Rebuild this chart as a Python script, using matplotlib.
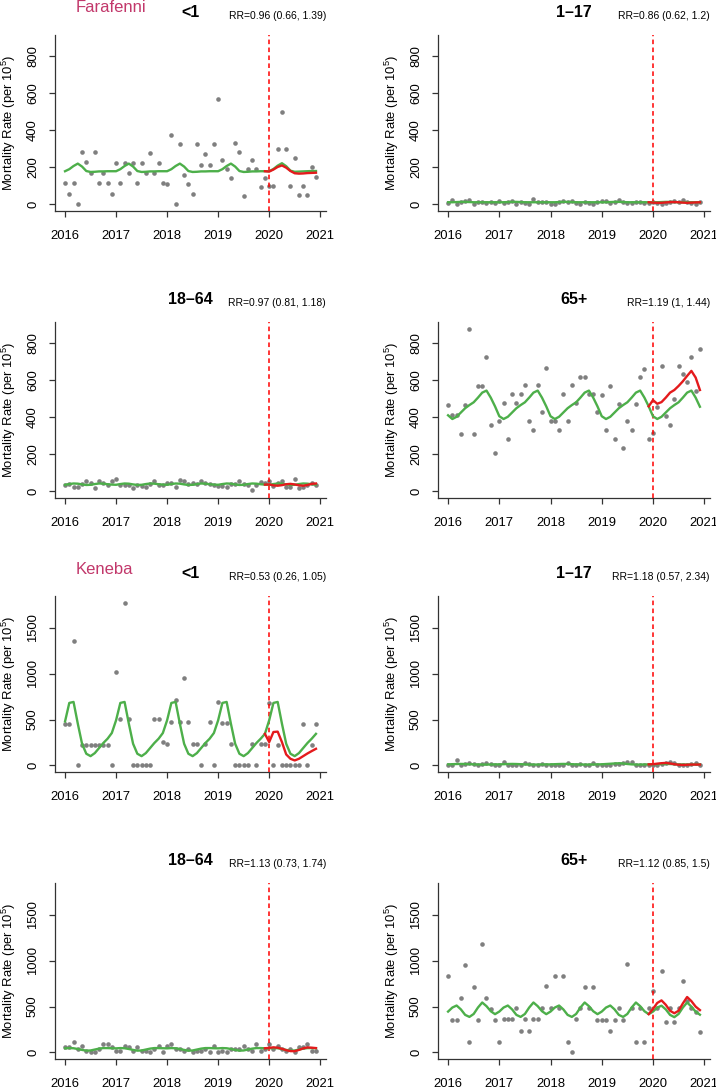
import numpy as np
import matplotlib
import matplotlib.pyplot as plt
matplotlib.use('Agg')

plt.rcParams['font.family'] = ['Liberation Sans', 'DejaVu Sans']
plt.rcParams['mathtext.fontset'] = 'custom'
plt.rcParams['mathtext.rm'] = 'Liberation Sans'
plt.rcParams['mathtext.it'] = 'Liberation Sans:italic'

# monthly series, Jan 2016 .. Dec 2020
year_ticks = [2016, 2017, 2018, 2019, 2020, 2021]
months = 2016 + np.arange(60) / 12
cf_start = 47  # counterfactual line starts Dec 2019

sites = ["Farafenni", "Keneba"]
groups = ["<1", "1\u201317", "18\u201364", "65+"]

# ---- Farafenni ----
far_rr = ["RR=0.96 (0.66, 1.39)", "RR=0.86 (0.62, 1.2)",
          "RR=0.97 (0.81, 1.18)", "RR=1.19 (1, 1.44)"]

far_u1_obs = [113, 56, 113, 0, 281, 226, 170, 281, 113, 170, 113, 57,
              222, 113, 222, 167, 222, 113, 222, 167, 278, 167, 222, 113,
              108, 376, 0, 323, 161, 108, 54, 323, 213, 269, 213, 323,
              568, 238, 190, 143, 332, 283, 48, 190, 238, 190, 95, 142,
              102, 102, 301, 500, 301, 102, 251, 52, 102, 52, 200, 150]
far_u1_fit = [179, 190, 207, 220, 204, 180, 175, 176, 178, 178, 179, 179,
              179, 190, 207, 220, 204, 180, 175, 176, 178, 178, 179, 179,
              179, 190, 207, 220, 204, 180, 175, 176, 178, 178, 179, 179,
              179, 190, 207, 220, 204, 180, 175, 176, 178, 178, 179, 179,
              179, 191, 209, 222, 206, 182, 176, 177, 178, 179, 180, 180]
far_u1_cf = [179, 177, 188, 202, 210, 198, 180, 168, 166, 167, 169, 170, 171]

far_1_17_obs = [10, 22, 2, 12, 20, 22, 5, 14, 14, 10, 12, 10,
                18, 8, 14, 18, 5, 15, 10, 4, 32, 15, 14, 12,
                5, 4, 12, 20, 14, 18, 8, 4, 15, 10, 5, 14,
                20, 18, 8, 14, 24, 12, 8, 10, 14, 12, 8, 10,
                14, 8, 5, 10, 12, 20, 15, 24, 12, 8, 4, 12]
far_1_17_fit = [12, 12, 13, 14, 14, 13, 12, 12, 12, 12, 12, 12,
                12, 12, 13, 14, 14, 13, 12, 12, 12, 12, 12, 12,
                12, 12, 13, 14, 14, 13, 12, 12, 12, 12, 12, 12,
                12, 12, 13, 14, 14, 13, 12, 12, 12, 12, 12, 12,
                12, 12, 13, 14, 14, 13, 12, 12, 12, 12, 12, 12]
far_1_17_cf = [12, 10, 9, 9, 11, 13, 13, 12, 10, 9, 10, 11, 12]

far_18_64_obs = [33, 42, 24, 24, 42, 55, 45, 20, 55, 45, 33, 56,
                 65, 33, 33, 33, 20, 36, 27, 24, 40, 56, 33, 36,
                 45, 45, 24, 60, 56, 42, 45, 40, 55, 45, 42, 33,
                 27, 27, 24, 42, 42, 55, 40, 33, 9, 33, 51, 45,
                 55, 27, 45, 55, 24, 24, 65, 18, 24, 33, 45, 36]
far_18_64_fit = [36, 40, 43, 42, 38, 35, 36, 40, 43, 42, 39, 37,
                 36, 40, 43, 42, 38, 35, 36, 40, 43, 42, 39, 37,
                 36, 40, 43, 42, 38, 35, 36, 40, 43, 42, 39, 37,
                 36, 40, 43, 42, 38, 35, 36, 40, 43, 42, 39, 37,
                 36, 40, 43, 42, 38, 35, 36, 40, 43, 42, 39, 37]
far_18_64_cf = [37, 38, 33, 31, 34, 39, 41, 38, 33, 31, 35, 41, 43]

far_65_obs = [463, 411, 411, 308, 463, 877, 308, 568, 568, 723, 360, 205,
              380, 476, 285, 523, 476, 523, 571, 380, 333, 571, 429, 667,
              380, 380, 333, 523, 380, 571, 476, 618, 618, 523, 523, 427,
              519, 330, 568, 283, 472, 234, 377, 330, 472, 614, 661, 281,
              315, 452, 677, 405, 360, 499, 677, 632, 589, 724, 541, 769]
far_65_fit = [410, 390, 402, 425, 448, 465, 480, 505, 532, 543, 505, 458,
              405, 390, 402, 425, 448, 465, 480, 505, 532, 543, 505, 458,
              405, 390, 402, 425, 448, 465, 480, 505, 532, 543, 505, 458,
              405, 390, 402, 425, 448, 465, 480, 505, 532, 543, 505, 458,
              405, 390, 402, 425, 448, 465, 480, 505, 532, 543, 505, 456]
far_65_cf = [458, 492, 472, 481, 505, 532, 546, 568, 593, 622, 649, 613, 546]

# ---- Keneba ----
ken_rr = ["RR=0.53 (0.26, 1.05)", "RR=1.18 (0.57, 2.34)",
          "RR=1.13 (0.73, 1.74)", "RR=1.12 (0.85, 1.5)"]

ken_u1_obs = [449, 449, 1358, 0, 226, 226, 226, 226, 226, 226, 226, 0,
              1018, 507, 1777, 507, 0, 0, 0, 0, 0, 507, 507, 252,
              238, 476, 718, 476, 952, 476, 238, 238, 0, 238, 476, 0,
              689, 460, 460, 230, 0, 0, 0, 0, 230, 0, 230, 230,
              684, 0, 228, 0, 0, 0, 0, 0, 456, 0, 228, 456]
ken_u1_fit = [480, 682, 693, 456, 237, 128, 102, 135, 190, 245, 292, 354,
              493, 682, 693, 456, 237, 128, 102, 135, 190, 245, 292, 354,
              493, 682, 693, 456, 237, 128, 102, 135, 190, 245, 292, 354,
              493, 682, 693, 456, 237, 128, 102, 135, 190, 245, 292, 345,
              493, 682, 693, 456, 237, 128, 102, 135, 190, 245, 292, 345]
ken_u1_cf = [345, 255, 365, 369, 255, 120, 73, 55, 73, 102, 131, 157, 182]

ken_1_17_obs = [10, 0, 55, 10, 15, 25, 20, 0, 15, 25, 20, 5,
                5, 35, 10, 5, 10, 5, 25, 15, 10, 5, 15, 10,
                5, 5, 0, 10, 28, 10, 0, 15, 5, 5, 25, 5,
                5, 0, 10, 15, 20, 30, 40, 35, 10, 5, 5, 5,
                5, 5, 20, 25, 35, 30, 5, 5, 10, 15, 25, 5]
ken_1_17_fit = [12, 14, 16, 17, 16, 14, 12, 11, 10, 10, 11, 12,
                12, 14, 16, 17, 16, 14, 12, 11, 10, 10, 11, 12,
                12, 14, 16, 17, 16, 14, 12, 11, 10, 10, 11, 12,
                13, 16, 19, 22, 24, 22, 16, 12, 10, 10, 11, 12,
                12, 14, 16, 17, 16, 14, 12, 11, 10, 10, 11, 12]
ken_1_17_cf = [12, 14, 20, 25, 28, 22, 14, 8, 6, 8, 10, 10, 10]

ken_18_64_obs = [62, 62, 110, 36, 73, 18, 0, 0, 36, 91, 91, 55,
                 18, 18, 73, 55, 18, 55, 18, 18, 0, 36, 73, 0,
                 73, 91, 36, 36, 18, 36, 0, 18, 18, 36, 0, 73,
                 0, 18, 0, 36, 36, 36, 73, 36, 18, 91, 18, 36,
                 91, 36, 73, 36, 18, 36, 0, 55, 55, 91, 18, 18]
ken_18_64_fit = [45, 48, 46, 38, 28, 20, 22, 32, 42, 48, 48, 46,
                 45, 48, 46, 38, 28, 20, 22, 32, 42, 48, 48, 46,
                 45, 48, 46, 38, 28, 20, 22, 32, 42, 48, 48, 46,
                 45, 48, 46, 38, 28, 20, 22, 32, 42, 48, 48, 46,
                 45, 48, 46, 38, 28, 20, 22, 32, 42, 48, 48, 46]
ken_18_64_cf = [46, 50, 56, 52, 40, 25, 15, 14, 28, 45, 55, 52, 48]

ken_65_obs = [830, 355, 355, 592, 951, 117, 713, 355, 1188, 592, 475, 355,
              117, 362, 362, 362, 483, 238, 362, 238, 362, 362, 483, 724,
              483, 837, 483, 837, 117, 0, 362, 483, 717, 483, 717, 358,
              358, 358, 238, 358, 483, 358, 969, 483, 117, 483, 117, 483,
              665, 483, 885, 329, 483, 329, 483, 776, 556, 483, 440, 219]
ken_65_fit = [446, 490, 512, 470, 410, 388, 420, 490, 545, 505, 450, 418,
              446, 490, 512, 470, 410, 388, 420, 490, 545, 505, 450, 418,
              446, 490, 512, 470, 410, 388, 420, 490, 545, 505, 450, 418,
              446, 490, 512, 470, 410, 388, 420, 490, 545, 505, 450, 418,
              446, 490, 510, 470, 410, 385, 420, 490, 545, 500, 445, 412]
ken_65_cf = [418, 475, 540, 568, 520, 455, 428, 455, 535, 605, 560, 500, 462]

far_obs = [far_u1_obs, far_1_17_obs, far_18_64_obs, far_65_obs]
far_fit = [far_u1_fit, far_1_17_fit, far_18_64_fit, far_65_fit]
far_cf = [far_u1_cf, far_1_17_cf, far_18_64_cf, far_65_cf]
ken_obs = [ken_u1_obs, ken_1_17_obs, ken_18_64_obs, ken_65_obs]
ken_fit = [ken_u1_fit, ken_1_17_fit, ken_18_64_fit, ken_65_fit]
ken_cf = [ken_u1_cf, ken_1_17_cf, ken_18_64_cf, ken_65_cf]

site_data = [(far_obs, far_fit, far_cf, far_rr, [0, 200, 400, 600, 800]),
             (ken_obs, ken_fit, ken_cf, ken_rr, [0, 500, 1000, 1500])]

# layout in pixels
W, H = 716, 1088
col_left = [55, 438]
col_w = [271, 272]
row_top = [35, 322, 596, 883]
row_h = 176

POINT = '#7f7f7f'
GREEN = '#4daf4a'
RED = '#e41a1c'
SITE_COL = '#c2386b'
AX_COL = '#333333'

fig = plt.figure(figsize=(W / 100, H / 100), dpi=100)


def fx(px):
    return px / W


def fy(py):
    return 1 - py / H


for s, (obs_l, fit_l, cf_l, rr_l, yt) in enumerate(site_data):
    hi = max(max(o) for o in obs_l)
    lo = min(min(o) for o in obs_l)
    ylim = (lo - 0.04 * (hi - lo), hi + 0.04 * (hi - lo))
    span = months[-1] - months[0]
    xlim = (months[0] - 0.04 * span, months[-1] + 0.04 * span)
    for g in range(4):
        r = s * 2 + g // 2
        c = g % 2
        left, top = col_left[c], row_top[r]
        ax = fig.add_axes([fx(left), fy(top + row_h), col_w[c] / W, row_h / H])
        ax.plot(months, obs_l[g], 'o', color=POINT, ms=3.3, mec='none', zorder=2)
        ax.axvline(2020, color='#ff0000', lw=1.1, ls=(0, (3, 2.2)), zorder=3)
        ax.plot(months, fit_l[g], color=GREEN, lw=1.7, zorder=4)
        ax.plot(months[cf_start:], cf_l[g], color=RED, lw=1.7, zorder=5)
        ax.set_xlim(xlim)
        ax.set_ylim(ylim)
        ax.set_xticks(year_ticks)
        ax.set_yticks(yt)
        ax.spines['top'].set_visible(False)
        ax.spines['right'].set_visible(False)
        for sp in ('left', 'bottom'):
            ax.spines[sp].set_color(AX_COL)
            ax.spines[sp].set_linewidth(0.9)
        ax.tick_params(direction='out', length=4.5, width=0.9, color=AX_COL,
                       labelsize=9.4, labelcolor='black')
        ax.tick_params(axis='x', pad=9.2)
        ax.tick_params(axis='y', pad=7.0, labelrotation=90)
        plt.setp(ax.get_yticklabels(), va='center')
        # titles
        cx = left + col_w[c] / 2
        fig.text(fx(cx), fy(top - 17.7), groups[g], ha='center',
                 va='baseline', fontsize=11.5, fontweight='bold')
        fig.text(fx(left + col_w[c]), fy(top - 16.0), rr_l[g], ha='right',
                 va='baseline', fontsize=7.5)
        fig.text(fx(left - 46), fy(top + row_h / 2),
                 r'Mortality Rate (per $10^5$)', rotation=90,
                 ha='center', va='center', fontsize=9.4)
        if g == 0:
            fig.text(fx(76), fy(top - 22.5), sites[s], ha='left',
                     va='baseline', fontsize=12, color=SITE_COL)

fig.savefig('out.png', dpi=100)
